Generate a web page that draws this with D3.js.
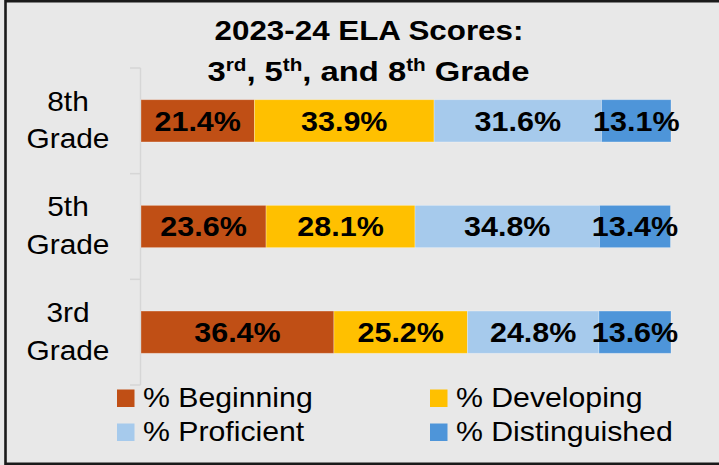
<!DOCTYPE html>
<html>
<head>
<meta charset="utf-8">
<script src="https://cdn.jsdelivr.net/npm/d3@7"></script>
<style>
html,body{margin:0;padding:0;background:#e8e8e8;}
svg{display:block;}
text{font-family:"Liberation Sans", Arial, sans-serif;}
</style>
</head>
<body>
<svg id="chart" width="719" height="465"></svg>
<script>
const categories = ["8th Grade", "5th Grade", "3rd Grade"];
const seriesNames = ["% Beginning", "% Developing", "% Proficient", "% Distinguished"];
const beginning = [21.4, 23.6, 36.4];
const developing = [33.9, 28.1, 25.2];
const proficient = [31.6, 34.8, 24.8];
const distinguished = [13.1, 13.4, 13.6];
const colors = ["#C04F15", "#FFC000", "#A6CAEC", "#4E95D9"];

const seriesValues = [beginning, developing, proficient, distinguished];
const rows = categories.map((c, i) => {
  const r = {category: c};
  seriesNames.forEach((s, j) => r[s] = seriesValues[j][i]);
  return r;
});

// horizontal stretch helper (the original font is wider than Liberation Sans)
function stretch(sel, cx, s) {
  sel.attr("transform", `translate(${cx},0) scale(${s},1) translate(${-cx},0)`);
}

const svg = d3.select("#chart");
svg.append("rect").attr("x",0).attr("y",0).attr("width",719).attr("height",465).attr("fill","#e8e8e8");
// border (right side cropped)
svg.append("rect").attr("x",5.5).attr("y",1.2).attr("width",800).attr("height",462.6)
  .attr("fill","none").attr("stroke","#1a1a1a").attr("stroke-width",2.6);

const x = d3.scaleLinear().domain([0,100]).range([141,671]);
const y = d3.scaleBand().domain(categories).range([68,385]).paddingInner(0.6).paddingOuter(0.3);

// title
const title = svg.append("text").attr("text-anchor","middle").attr("font-weight","bold").attr("font-size",28.5).attr("fill","#000")
  .attr("x",369).attr("y",40).text("2023-24 ELA Scores:");
stretch(title, 369, 1.1);
const t2 = svg.append("text").attr("text-anchor","middle").attr("font-weight","bold").attr("font-size",28.5).attr("fill","#000").attr("x",368.5).attr("y",81);
const parts = [["3",""],["rd","sup"],[", 5",""],["th","sup"],[", and 8",""],["th","sup"],[" Grade",""]];
parts.forEach(([t,k]) => {
  const ts = t2.append("tspan").text(t);
  if (k === "sup") ts.attr("font-size",18).attr("baseline-shift","60%");
});
stretch(t2, 368.5, 1.15);

// axis line and ticks
const step = y.step();
const tickYs = categories.map(c => y(c) - step*y.paddingInner()/2).concat([y(categories[categories.length-1]) + y.bandwidth() + step*y.paddingInner()/2]);
const axisColor = "#d6d6d6";
svg.append("line").attr("x1",140.5).attr("x2",140.5).attr("y1",tickYs[0]).attr("y2",tickYs[tickYs.length-1])
  .attr("stroke",axisColor).attr("stroke-width",1.5);
svg.selectAll(".tick").data(tickYs).join("line").attr("class","tick")
  .attr("x1",130).attr("x2",140.5).attr("y1",d=>d).attr("y2",d=>d)
  .attr("stroke",axisColor).attr("stroke-width",1.5);

// category labels
categories.forEach(c => {
  const cy = y(c) + y.bandwidth()/2;
  const [a,b] = c.split(" ");
  const t = svg.append("text").attr("text-anchor","middle").attr("font-size",27.5).attr("fill","#000");
  t.append("tspan").attr("x",68).attr("y",cy-10).text(a);
  t.append("tspan").attr("x",68).attr("y",cy+27.6).text(b);
  stretch(t, 68, 1.085);
});

// stacked bars
const stack = d3.stack().keys(seriesNames)(rows);
const g = svg.append("g");
stack.forEach((layer, j) => {
  g.selectAll(null).data(layer).join("rect")
    .attr("x", d => x(d[0]))
    .attr("y", d => y(d.data.category))
    .attr("width", d => x(d[1]) - x(d[0]))
    .attr("height", y.bandwidth())
    .attr("fill", colors[j])
    .attr("stroke","#ffffff").attr("stroke-opacity",0.35).attr("stroke-width",0.8);
});
stack.forEach((layer, j) => {
  g.selectAll(null).data(layer).join("text")
    .attr("x", d => (x(d[0]) + x(d[1]))/2)
    .attr("y", d => y(d.data.category) + y.bandwidth()/2 + 10)
    .attr("text-anchor","middle").attr("font-weight","bold").attr("font-size",28).attr("fill","#000")
    .text(d => (d[1]-d[0]).toFixed(1) + "%")
    .each(function(d){ const cx = (x(d[0]) + x(d[1]))/2; stretch(d3.select(this), cx, 1.09); });
});

// legend
const legPos = [[117,389.5],[430,389.5],[117,423.5],[430,423.5]];
seriesNames.forEach((s, j) => {
  const [lx, ly] = legPos[j];
  svg.append("rect").attr("x",lx).attr("y",ly).attr("width",17.5).attr("height",17.5).attr("fill",colors[j]);
  const t = svg.append("text").attr("x",lx+26).attr("y",ly+18).attr("font-size",28).attr("fill","#000").text(s);
  stretch(t, lx+26, 1.08);
});
</script>
</body>
</html>
